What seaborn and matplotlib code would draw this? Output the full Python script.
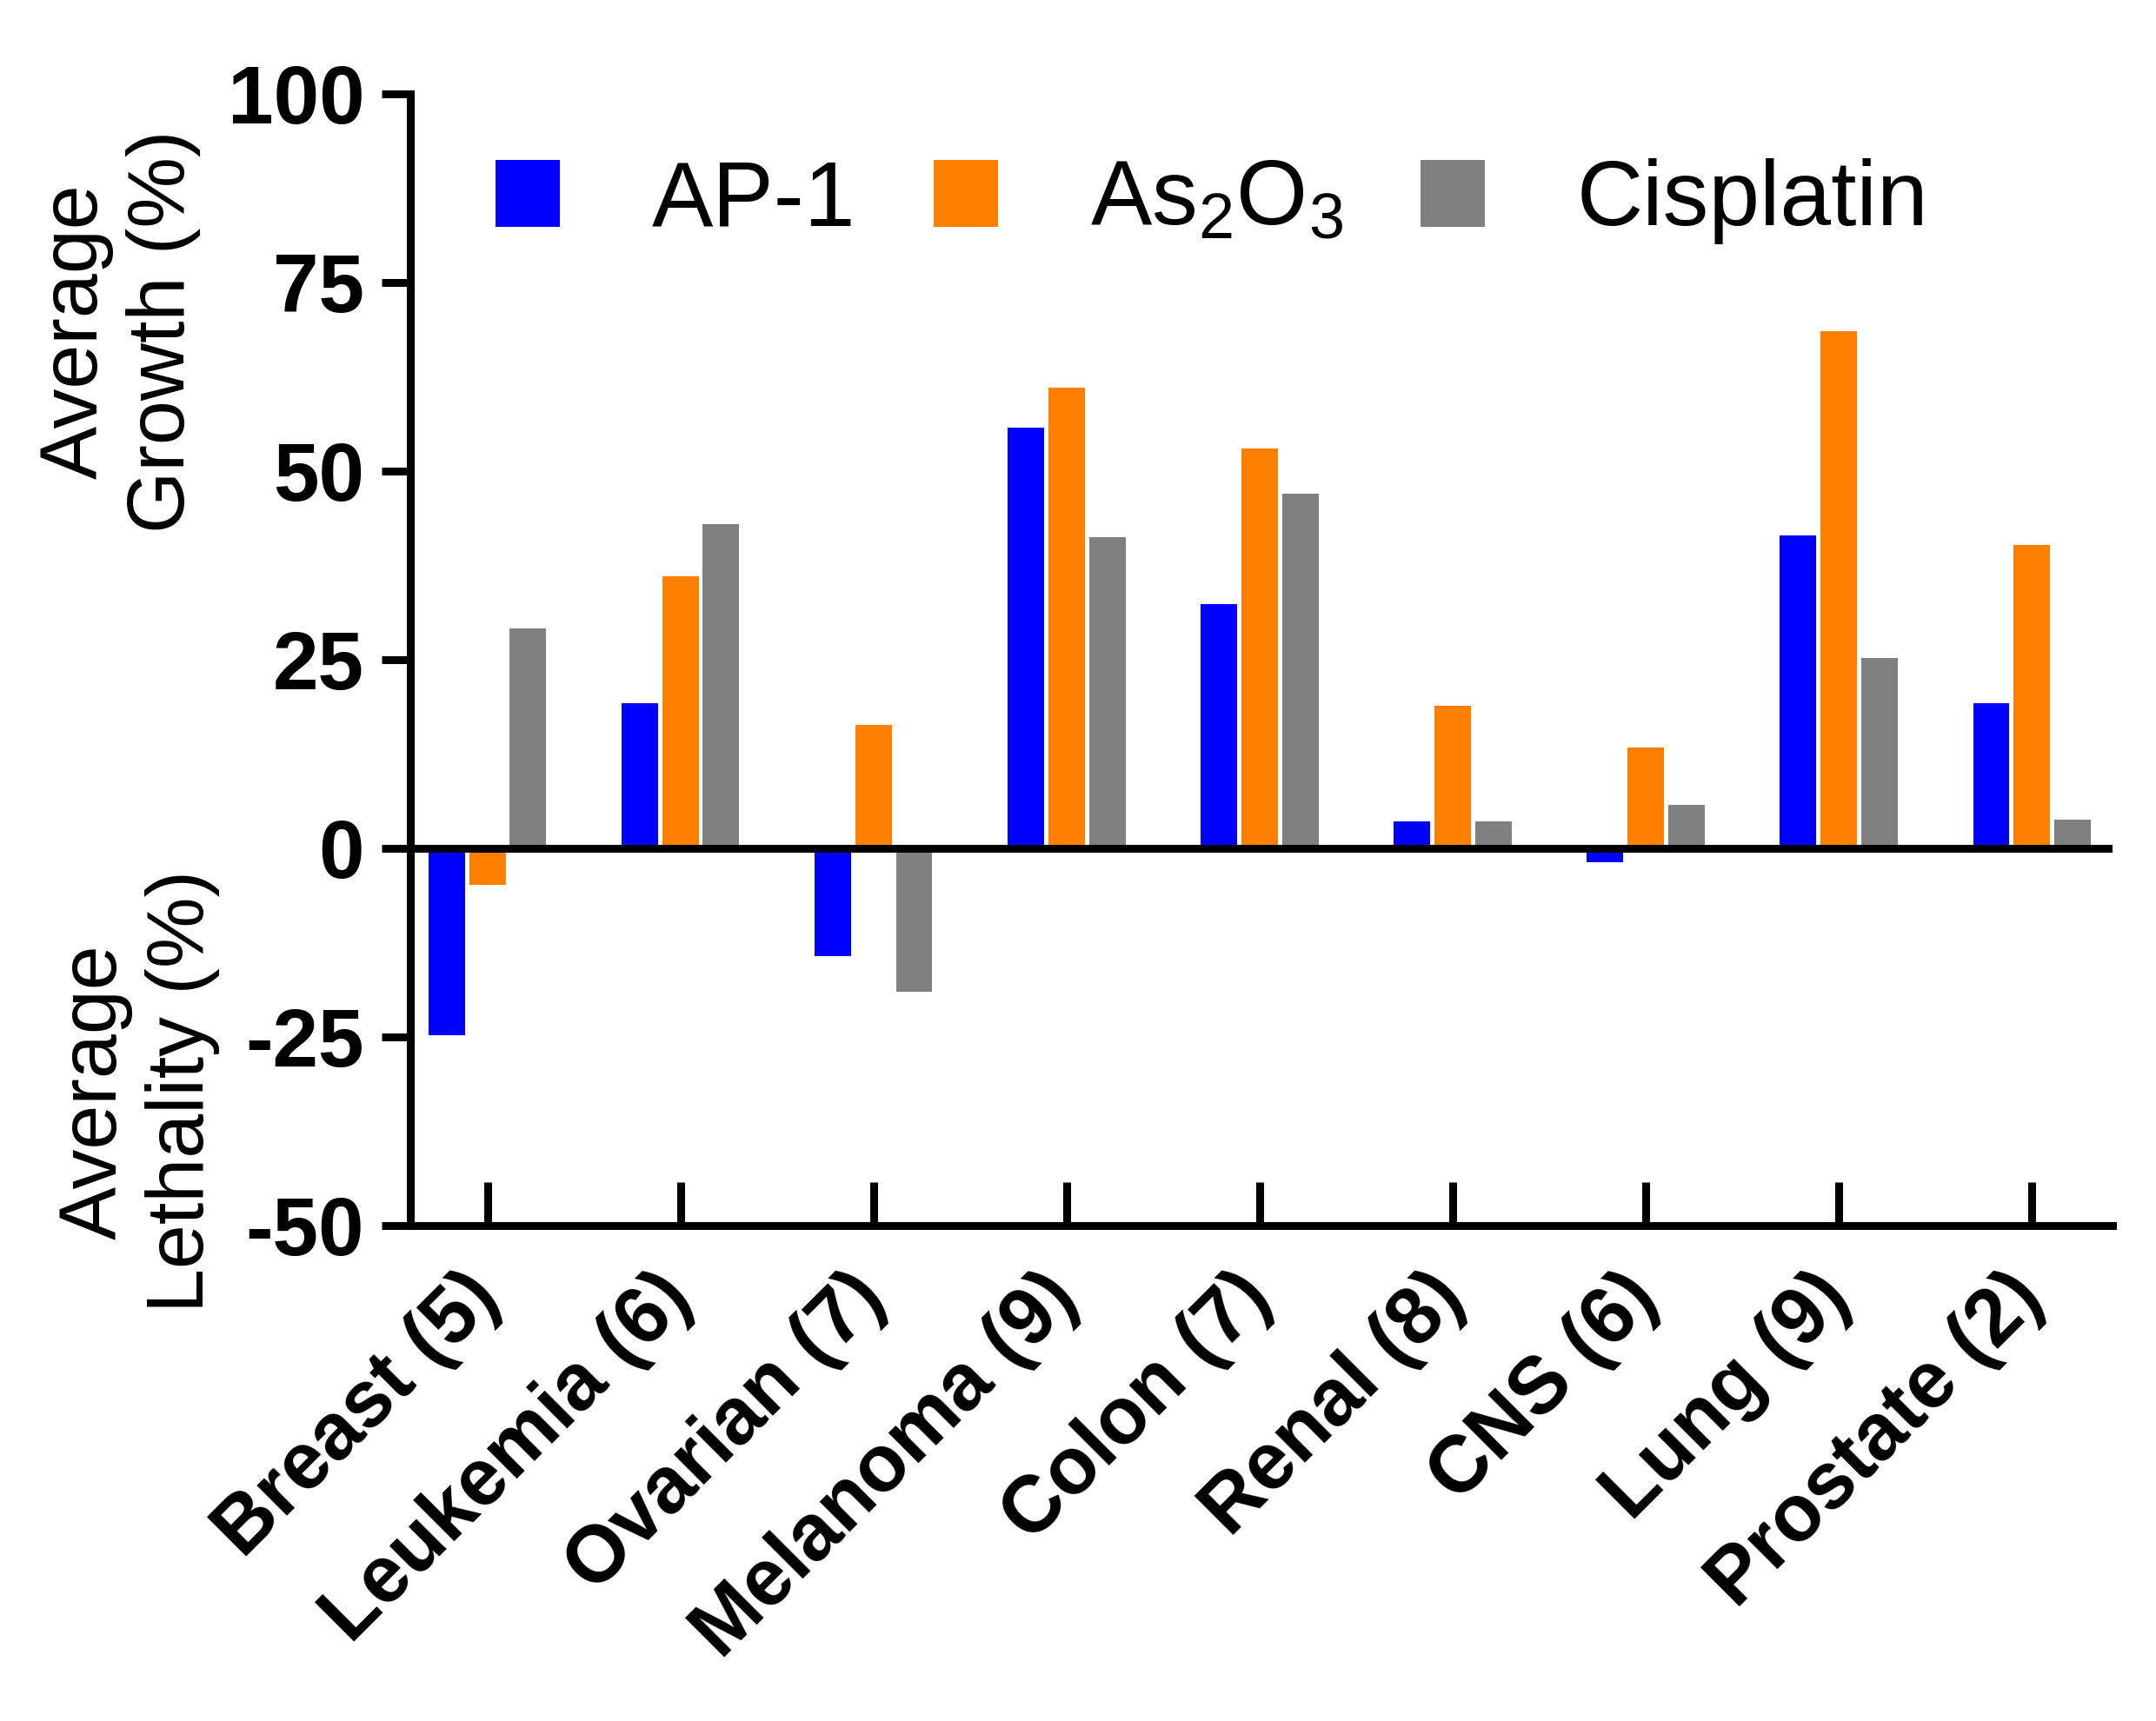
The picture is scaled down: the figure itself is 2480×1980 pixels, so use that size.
import numpy as np
import pandas as pd
import matplotlib
matplotlib.use("Agg")
import matplotlib.pyplot as plt
import seaborn as sns

# Datos
categories = ["Breast (5)", "Leukemia (6)", "Ovarian (7)", "Melanoma (9)", "Colon (7)",
              "Renal (8)", "CNS (6)", "Lung (9)", "Prostate (2)"]
drugs = ["AP-1", r"As$_2$O$_3$", "Cisplatin"]
ap1 = [-24.8, 19.2, -14.3, 55.8, 32.4, 3.6, -1.8, 41.5, 19.2]
as2o3 = [-4.9, 36.1, 16.4, 61.1, 53.0, 18.9, 13.4, 68.5, 40.2]
cisplatin = [29.1, 43.0, -19.0, 41.2, 47.0, 3.6, 5.7, 25.2, 3.8]
colors = ["#0000FF", "#FF8000", "#808080"]
yticks = [-50, -25, 0, 25, 50, 75, 100]

df = pd.DataFrame({
    "cat": categories * 3,
    "drug": [drugs[0]] * 9 + [drugs[1]] * 9 + [drugs[2]] * 9,
    "value": ap1 + as2o3 + cisplatin,
})

sns.set_style("ticks")
plt.rcParams['font.family'] = ['Liberation Sans', 'DejaVu Sans']
plt.rcParams['mathtext.default'] = 'regular'
plt.rcParams['axes.unicode_minus'] = False
for k in ["text.color", "axes.labelcolor", "xtick.color", "ytick.color", "axes.edgecolor"]:
    plt.rcParams[k] = "black"

fig = plt.figure(figsize=(24.8, 19.8), dpi=100)
ax = fig.add_axes([0.1903, 0.2879, 0.980 - 0.1903, 0.9455 - 0.2879])

sns.barplot(data=df, x="cat", y="value", hue="drug", hue_order=drugs,
            palette=colors, saturation=1, errorbar=None, width=0.63, gap=0.1,
            linewidth=0, ax=ax)

lw = 6.5
ax.axhline(0, color="black", linewidth=lw, zorder=5)
ax.set_ylim(-50, 100)
ax.set_xlim(-0.4, 8.42)
ax.set_yticks(yticks)
ax.set_yticklabels([str(t) for t in yticks], fontsize=68, fontweight="bold")
ax.set_xticks(range(len(categories)))
ax.set_xticklabels(categories, fontsize=66, fontweight="bold", rotation=45,
                   ha="right", va="center", rotation_mode="anchor")
ax.tick_params(axis="y", direction="out", length=24, width=lw, pad=14)
ax.tick_params(axis="x", direction="in", length=36, width=lw, pad=50)
ax.set_xlabel("")
ax.set_ylabel("")
sns.despine(ax=ax)
for s in ["left", "bottom"]:
    ax.spines[s].set_linewidth(lw)

# etiquetas del eje y en dos bloques
fig.text(0.0556, 0.8076, "Average\nGrowth (%)", rotation=90, ha="center", va="center",
         multialignment="center", fontsize=66)
fig.text(0.0645, 0.3657, "Average\nLethality (%)", rotation=90, ha="center", va="center",
         multialignment="center", fontsize=66)

ax.legend(loc="center", bbox_to_anchor=(0.471, 0.905), ncol=3, frameon=False,
          fontsize=76, handlelength=0.7, handleheight=0.75, handletextpad=1.0,
          columnspacing=0.85)

fig.savefig("out.png", dpi=100)
